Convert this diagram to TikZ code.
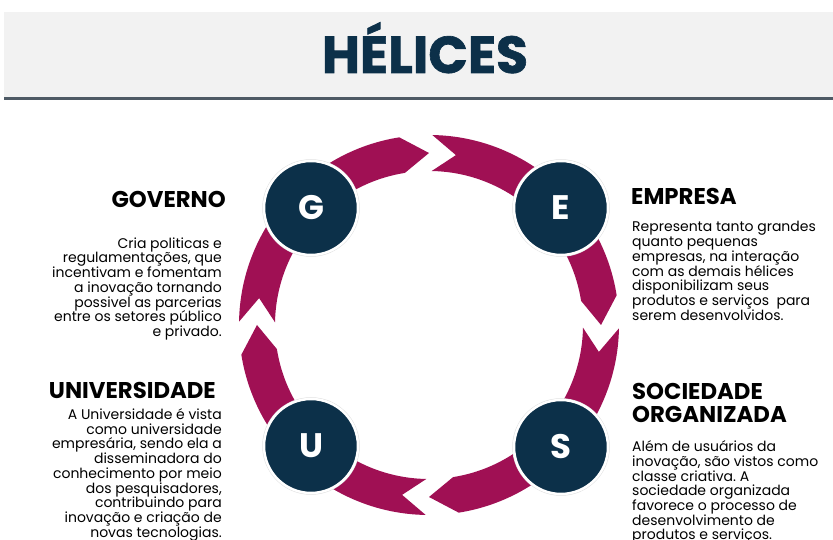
\documentclass[tikz,border=0pt]{standalone}
\usepackage{fontspec}
\setmainfont{Poppins}
\newfontfamily\heavyfont[FakeBold=1.2]{Poppins}
\usetikzlibrary{positioning}
\frenchspacing

\definecolor{navy}{RGB}{12,48,73}
\definecolor{berry}{RGB}{160,16,84}
\definecolor{band}{RGB}{242,242,242}
\definecolor{rulegray}{RGB}{78,90,101}

\tikzset{
  helix/.style={circle, fill=navy, draw=white, line width=2.5pt,
    preaction={draw=gray!25, line width=3.5pt},
    minimum size=94pt, inner sep=0pt, text=white,
    font=\fontsize{34}{34}\selectfont\bfseries},
  heading/.style={inner sep=0pt, font=\fontsize{22.8}{22.8}\selectfont\bfseries},
  body/.style={inner sep=0pt, font=\fontsize{14}{14.7}\selectfont},
}

\begin{document}
\begin{tikzpicture}[x=1pt,y=1pt]
\useasboundingbox (0,0) rectangle (833,540);

% title band
\fill[band] (4,443) rectangle (833,528);
\fill[rulegray] (4,440) rectangle (833,443);
\node[anchor=base, inner sep=0pt, text=navy,
    font=\fontsize{52}{52}\selectfont\heavyfont\bfseries] (titulo) at (425,467) {HÉLICES};

% ring of arrows, clockwise
\begin{scope}[shift={(429,215)}]
\foreach \g in {90,0,-90,-180} {
  \fill[berry] (\g-1:190pt) arc[start angle=\g-1, end angle=\g-81, radius=190pt]
    -- (\g-90:172pt) -- (\g-81:154pt)
    arc[start angle=\g-81, end angle=\g-1, radius=154pt]
    -- (\g-9:172pt) -- cycle;
}
\end{scope}

% helices
\node[helix] (G) at (311,332) {G};
\node[helix] (E) at (561,332) {E};
\node[helix] (U) at (311,94) {U};
\node[helix] (S) at (561,93) {S};

% governo
\node[heading, anchor=base east] (govT) at (226,332) {GOVERNO};
\node[body, align=right, below=29pt of govT.south east, anchor=north east,
    xshift=-4pt] (govB) {Cria politicas e\\regulamentações, que\\incentivam e fomentam\\a inovação tornando\\possivel as parcerias\\entre os setores público\\e privado.};

% universidade
\node[heading, anchor=base east] (uniT) at (216,141) {UNIVERSIDADE};
\node[body, align=right, below=9pt of uniT.south east, anchor=north east,
    xshift=6pt] (uniB) {A Universidade é vista\\como universidade\\empresária, sendo ela a\\disseminadora do\\conhecimento por meio\\dos pesquisadores,\\contribuindo para\\inovação e criação de\\novas tecnologias.};

% empresa
\node[heading, anchor=base west] (empT) at (631,335) {EMPRESA};
\node[body, align=left, below=16pt of empT.south west, anchor=north west,
    xshift=1pt] (empB) {Representa tanto grandes\\quanto pequenas\\empresas, na interação\\com as demais hélices\\disponibilizam seus\\produtos e serviços\ \ para\\serem desenvolvidos.};

% sociedade organizada
\node[heading, align=left, anchor=north west] (socT) at (632,157) {SOCIEDADE\\ORGANIZADA};
\node[body, align=left, below=18pt of socT.south west, anchor=north west] (socB) {Além de usuários da\\inovação, são vistos como\\classe criativa. A\\sociedade organizada\\favorece o processo de\\desenvolvimento de\\produtos e serviços.};
\end{tikzpicture}
\end{document}
